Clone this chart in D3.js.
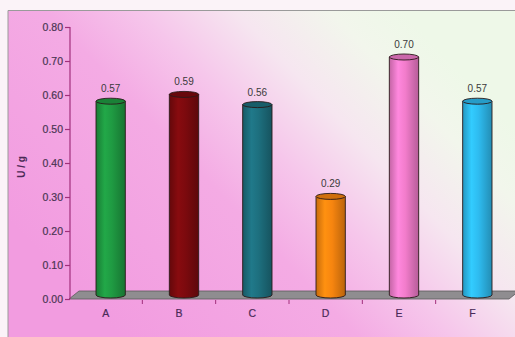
<!DOCTYPE html>
<html>
<head>
<meta charset="utf-8">
<script src="https://cdn.jsdelivr.net/npm/d3@7/dist/d3.min.js"></script>
<style>
  html, body { margin: 0; padding: 0; background: #fbf3f8; }
  svg { display: block; }
  text { font-family: "Liberation Sans", Arial, sans-serif; }
</style>
</head>
<body>
<svg id="chart" width="515" height="337"></svg>
<script>
// Activity per sample (U / g)
const categories = ["A", "B", "C", "D", "E", "F"];
const values = [0.57, 0.59, 0.56, 0.29, 0.70, 0.57];
const barColors = ["#1f9a42", "#7c0a0e", "#1d6f7e", "#f7850f", "#f27ccb", "#2ebbef"];
const yTicks = [0, 0.1, 0.2, 0.3, 0.4, 0.5, 0.6, 0.7, 0.8];
const yTitle = "U / g";

const W = 515, H = 337;
const svg = d3.select("#chart");
const defs = svg.append("defs");

// plot backdrop: pink at lower left fading to pale green at upper right
const bg = defs.append("linearGradient").attr("id", "bg")
  .attr("gradientUnits", "userSpaceOnUse")
  .attr("x1", 120).attr("y1", 337).attr("x2", 430).attr("y2", 40);
[[0, "#f29ce0"], [0.4, "#f4abe4"], [0.56, "#f6c6eb"], [0.72, "#f6e6f0"], [0.88, "#f2f6ec"], [1, "#eef8e8"]]
  .forEach(([o, c]) => bg.append("stop").attr("offset", o).attr("stop-color", c));

svg.append("rect").attr("x", 8).attr("y", 10).attr("width", W - 8).attr("height", H - 10)
  .attr("fill", "url(#bg)");
svg.append("path").attr("d", `M8,${H} V10.5 H${W}`)
  .attr("fill", "none").attr("stroke", "#9a9a9a").attr("stroke-width", 1);

// scales
const x = d3.scaleBand().domain(categories).range([69, 509]).padding(0);
const y = d3.scaleLinear().domain([0, 0.8]).range([299, 27]);
const depthX = 10, depthY = 8;
const barW = x.bandwidth() * 0.4;

// floor slab
const floorPts = [[69, y(0)], [509, y(0)], [509 + depthX, y(0) - depthY], [69 + depthX, y(0) - depthY]];
svg.append("path").attr("d", d3.line()(floorPts) + "Z")
  .attr("fill", "#8f8d90").attr("stroke", "#5a5a5a").attr("stroke-width", 0.8);

// y axis
const yAxis = svg.append("g").attr("transform", "translate(70,0)")
  .call(d3.axisLeft(y).tickValues(yTicks).tickFormat(d3.format(".2f")).tickSize(5).tickPadding(2));
yAxis.select(".domain").attr("stroke", "#a2307c").attr("stroke-width", 1.2)
  .attr("d", `M0,${y(0.8)}V${y(0)}`);
yAxis.selectAll(".tick line").attr("stroke", "#a2307c").attr("stroke-width", 1.2);
yAxis.selectAll(".tick text").attr("fill", "#4a3552").attr("font-size", 10.5)
  .attr("stroke", "#4a3552").attr("stroke-width", 0.2);

// x axis (ticks between categories, labels centred in each band)
const xAxis = svg.append("g").attr("transform", `translate(0,${y(0)})`)
  .call(d3.axisBottom(x).tickSize(0).tickPadding(11));
xAxis.select(".domain").remove();
xAxis.selectAll(".tick text").attr("fill", "#4a2a58").attr("font-size", 10.5)
  .attr("stroke", "#4a2a58").attr("stroke-width", 0.2);
svg.append("g").selectAll("line")
  .data(categories.slice(1))
  .join("line")
  .attr("x1", d => x(d)).attr("x2", d => x(d))
  .attr("y1", y(0) + 1).attr("y2", y(0) + 5)
  .attr("stroke", "#a2307c").attr("stroke-width", 1);

// cylinder shading gradients
barColors.forEach((c, i) => {
  const g = defs.append("linearGradient").attr("id", "cyl" + i)
    .attr("x1", 0).attr("x2", 1).attr("y1", 0).attr("y2", 0);
  const base = d3.color(c);
  [[0, base.darker(0.6)], [0.3, base.brighter(0.25)], [0.55, base], [1, base.darker(0.8)]]
    .forEach(([o, col]) => g.append("stop").attr("offset", o).attr("stop-color", col));
});

const ry = 3;
const bars = svg.append("g").selectAll("g")
  .data(categories.map((c, i) => ({ c, v: values[i], i })))
  .join("g");

const cx = d => x(d.c) + x.bandwidth() / 2 + depthX / 2;
const base0 = y(0) - depthY / 2;
const topY = d => y(d.v) - depthY / 2;

// body with rounded bottom
bars.append("path")
  .attr("d", d => {
    const l = cx(d) - barW / 2, r = cx(d) + barW / 2;
    return `M${l},${topY(d)} V${base0} A${barW / 2},${ry} 0 0 0 ${r},${base0} V${topY(d)} Z`;
  })
  .attr("fill", d => `url(#cyl${d.i})`)
  .attr("stroke", "#2a1a1a").attr("stroke-width", 0.9);

// top cap
bars.append("ellipse")
  .attr("cx", cx).attr("cy", topY)
  .attr("rx", barW / 2).attr("ry", ry)
  .attr("fill", d => d3.color(barColors[d.i]).darker(0.5))
  .attr("stroke", "#2a1a1a").attr("stroke-width", 0.9);

// value labels
bars.append("text")
  .attr("x", cx).attr("y", d => topY(d) - 9)
  .attr("text-anchor", "middle")
  .attr("font-size", 10).attr("fill", "#3a3a3a")
  .text(d => d3.format(".2f")(d.v));

// y title
svg.append("text")
  .attr("transform", `translate(25,${(y(0) + y(0.8)) / 2 + 4}) rotate(-90)`)
  .attr("text-anchor", "middle")
  .attr("font-size", 10).attr("font-weight", "bold").attr("fill", "#4a2a55")
  .text(yTitle);
</script>
</body>
</html>
